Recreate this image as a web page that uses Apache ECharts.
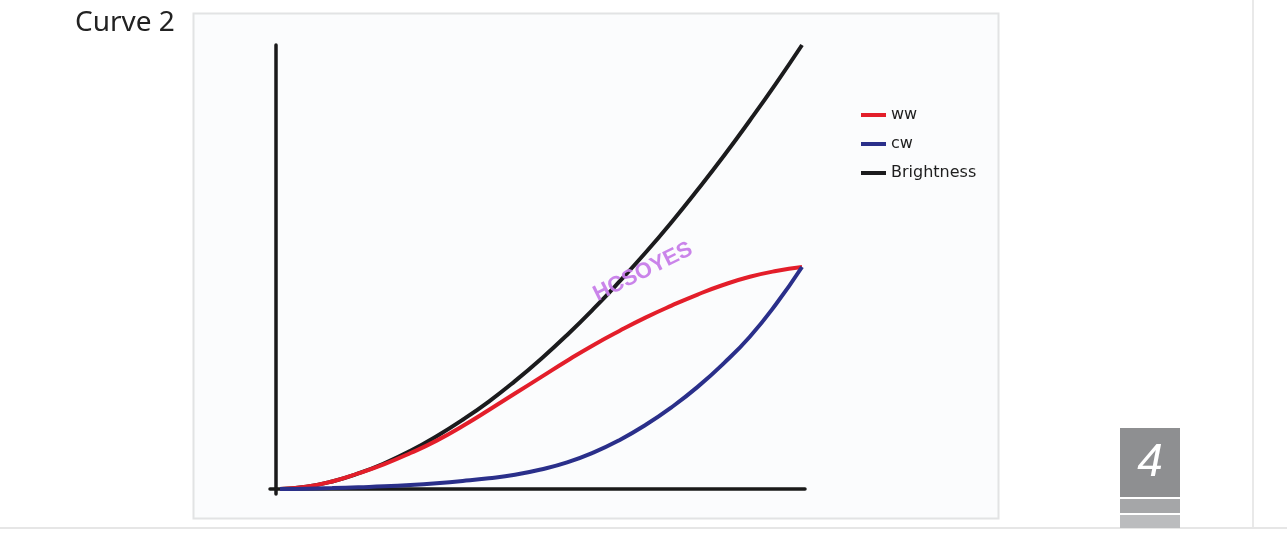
<!DOCTYPE html>
<html>
<head>
<meta charset="utf-8">
<script src="https://cdn.jsdelivr.net/npm/echarts@6/dist/echarts.min.js"></script>
<style>
html,body{margin:0;padding:0;background:#fff;}
#c{width:1287px;height:547px;}
</style>
</head>
<body>
<div id="c"></div>
<script>
// Data (normalized: x 0..100, y 0..100)
var xValues = [0,5,10,15,20,25,30,35,40,45,50,55,60,65,70,75,80,85,90,95,100];
var wwValues = [0,0.5,1.7,3.5,5.6,8.1,10.9,14.2,17.8,21.5,25.2,28.9,32.4,35.6,38.6,41.3,43.8,46.0,47.8,49.1,50];
var cwValues = [0,0.05,0.2,0.4,0.6,0.9,1.3,1.8,2.4,3.2,4.4,6.0,8.2,11.0,14.4,18.4,23.0,28.3,34.3,41.6,50];
var brightnessValues = [0,0.5,1.7,3.5,5.8,8.6,11.9,15.6,19.7,24.3,29.3,34.7,40.5,46.7,53.2,60.1,67.4,75.0,83.0,91.3,100];
var seriesNames = ['ww','cw','Brightness'];
var titleText = 'Curve 2';
var pageNumber = '4';
var watermark = 'HCSOYES';

function pairs(vals){ return xValues.map(function(x,i){ return [x, vals[i]]; }); }

var chart = echarts.init(document.getElementById('c'), null, {renderer:'canvas'});
var lineW = 4;
chart.setOption({
  backgroundColor: '#ffffff',
  animation: false,
  graphic: [
    {type:'rect', z:-10, shape:{x:193.5,y:13.5,width:805,height:505}, style:{fill:'#fbfcfd', stroke:'#e2e3e4', lineWidth:2}},
    {type:'text', left:75, top:9, style:{text:titleText, font:'28px "Noto Sans"', fill:'#222222'}},
    {type:'rect', shape:{x:1252,y:0,width:2,height:528}, style:{fill:'#e9e9e9'}},
    {type:'rect', shape:{x:0,y:527,width:1287,height:2}, style:{fill:'#e6e6e6'}},
    {type:'rect', shape:{x:1120,y:428,width:60,height:69}, style:{fill:'#8e8f91'}},
    {type:'rect', shape:{x:1120,y:499,width:60,height:14}, style:{fill:'#a5a6a8'}},
    {type:'rect', shape:{x:1120,y:515,width:60,height:13}, style:{fill:'#bbbcbe'}},
    {type:'text', x:1150, y:463, style:{text:pageNumber, font:'italic 46px "Liberation Sans"', fill:'#ffffff', align:'center', verticalAlign:'middle'}},
    {type:'text', x:643, y:272, rotation:0.46, z:100, style:{text:watermark, font:'bold 22px "Liberation Sans"', fill:'#c77de9', align:'center', verticalAlign:'middle', opacity:0.95}}
  ],
  legend: {
    orient:'vertical', left:856, top:102, itemWidth:25, itemHeight:4, itemGap:13,
    icon:'rect',
    textStyle:{fontFamily:'DejaVu Sans', fontSize:16, color:'#1e1e1e'},
    data: seriesNames
  },
  grid: [
    {left:276, top:45, width:529, height:449},
    {left:270, top:45, width:535, height:444}
  ],
  xAxis: [
    {gridIndex:0, type:'value', min:0, max:100, show:false},
    {gridIndex:1, type:'value', min:-1.92, max:100.57,
      axisLine:{show:true, onZero:false, lineStyle:{color:'#1a1a1a', width:3.5}},
      axisTick:{show:false}, axisLabel:{show:false}, splitLine:{show:false}}
  ],
  yAxis: [
    {gridIndex:0, type:'value', min:0, max:100,
      axisLine:{show:true, onZero:false, lineStyle:{color:'#1a1a1a', width:3.5}},
      axisTick:{show:false}, axisLabel:{show:false}, splitLine:{show:false}},
    {gridIndex:1, type:'value', min:0, max:100, show:false}
  ],
  series: [
    {name:seriesNames[2], type:'line', xAxisIndex:1, yAxisIndex:1, data:pairs(brightnessValues), smooth:0.5, showSymbol:false, z:3,
      lineStyle:{color:'#1b1b1d', width:lineW}, itemStyle:{color:'#1b1b1d'}},
    {name:seriesNames[0], type:'line', xAxisIndex:1, yAxisIndex:1, data:pairs(wwValues), smooth:0.5, showSymbol:false, z:4,
      lineStyle:{color:'#e31e2a', width:lineW}, itemStyle:{color:'#e31e2a'}},
    {name:seriesNames[1], type:'line', xAxisIndex:1, yAxisIndex:1, data:pairs(cwValues), smooth:0.5, showSymbol:false, z:5,
      lineStyle:{color:'#2a2f8a', width:lineW}, itemStyle:{color:'#2a2f8a'}}
  ]
});
</script>
</body>
</html>
